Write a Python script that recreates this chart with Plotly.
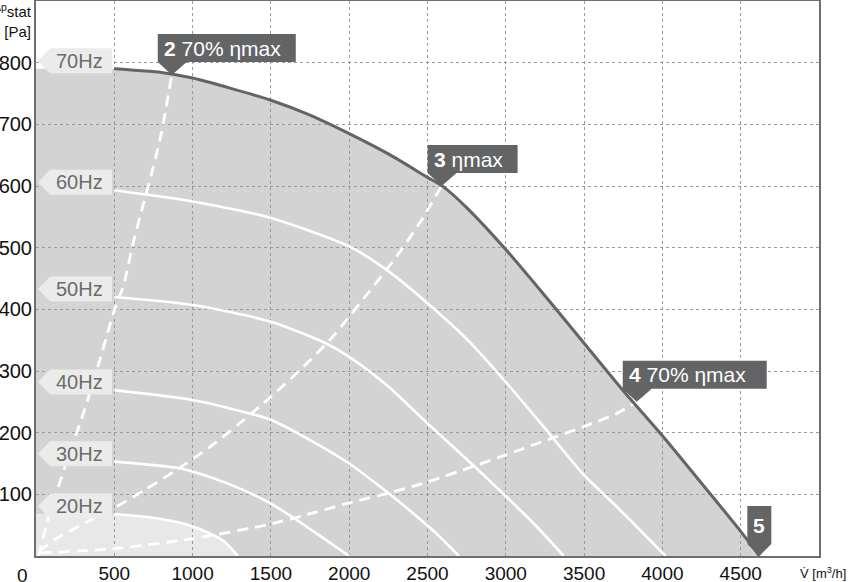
import plotly.graph_objects as go

# ---------------- data ----------------
x_ticks = [500, 1000, 1500, 2000, 2500, 3000, 3500, 4000, 4500]
y_ticks = [100, 200, 300, 400, 500, 600, 700, 800]

hz_labels = ["70Hz", "60Hz", "50Hz", "40Hz", "30Hz", "20Hz"]

v70 = [500, 800, 1000, 1250, 1500, 1750, 2000, 2250, 2500, 2600, 2750, 3000, 3250, 3500, 3750, 4000, 4250, 4500, 4620]
p70 = [790, 784, 775, 758, 739, 715, 685, 652, 614, 599, 565, 497, 422, 345, 268, 195, 118, 40, 0]

v60 = [500, 1000, 1500, 2000, 2250, 2500, 2750, 3000, 3250, 3500, 3700, 3900, 4020]
p60 = [593, 575, 548, 502, 462, 410, 352, 282, 207, 131, 82, 31, 0]

v50 = [500, 1000, 1500, 1850, 2000, 2250, 2500, 2750, 3000, 3200, 3370]
p50 = [420, 407, 380, 345, 323, 275, 215, 157, 97, 47, 0]

v40 = [500, 1000, 1350, 1500, 1750, 2000, 2250, 2400, 2550, 2700]
p40 = [269, 253, 232, 221, 188, 150, 102, 71, 38, 0]

v30 = [500, 900, 1000, 1250, 1500, 1650, 1800, 2000]
p30 = [153, 143, 137, 115, 85, 61, 35, 0]

v20 = [500, 750, 900, 1000, 1100, 1200, 1290]
p20 = [68, 62, 55, 48, 38, 24, 0]

# system (efficiency) curves, dashed
sys2_v = [15, 70, 150, 230, 310, 410, 500, 560, 620, 690, 750, 800, 867]
sys2_p = [0, 53, 118, 177, 237, 320, 398, 440, 507, 575, 632, 685, 780]

sys3_v = [20, 130, 300, 500, 700, 900, 1100, 1300, 1500, 1700, 1900, 2100, 2300, 2450, 2590]
sys3_p = [8, 28, 52, 78, 108, 140, 175, 215, 258, 305, 357, 420, 485, 540, 600]

sys4_v = [30, 500, 1000, 1500, 1800, 2000, 2250, 2500, 2800, 3000, 3250, 3500, 3700, 3836]
sys4_p = [5, 12, 28, 52, 72, 86, 102, 120, 146, 164, 187, 210, 230, 250]

op_labels = ["<b>2</b> 70% ηmax", "<b>3</b> ηmax", "<b>4</b> 70% ηmax", "<b>5</b>"]
op_v = [867, 2590, 3836, 4619]
op_p = [780, 600, 250, 0]

# ---------------- styling ----------------
FONT = "Liberation Sans, Arial, sans-serif"
GRAY_FILL = "#d3d3d3"
LIGHT_FILL = "#e8e8e8"
DARK = "#636466"

curves = [(v70, p70), (v60, p60), (v50, p50), (v40, p40), (v30, p30), (v20, p20)]

fig = go.Figure()

def area_path(vs, ps):
    pts = [(0, 0), (0, ps[0])] + list(zip(vs, ps))
    return "M " + " L ".join(f"{a},{b}" for a, b in pts) + " Z"

shapes = []
shapes.append(dict(type="path", xref="x", yref="y", path=area_path(v70, p70),
                   fillcolor=GRAY_FILL, line=dict(width=0), layer="below"))
shapes.append(dict(type="path", xref="x", yref="y", path=area_path(v20, p20),
                   fillcolor=LIGHT_FILL, line=dict(width=0), layer="below"))

# white speed curves
for (vs, ps) in curves[1:]:
    fig.add_trace(go.Scatter(x=vs, y=ps, mode="lines", line=dict(color="white", width=2.6, shape="spline", smoothing=0.7),
                             hoverinfo="skip", showlegend=False))

# dashed system curves
for vs, ps in [(sys2_v, sys2_p), (sys3_v, sys3_p), (sys4_v, sys4_p)]:
    fig.add_trace(go.Scatter(x=vs, y=ps, mode="lines", line=dict(color="white", width=2.8, dash="11px,7px", shape="spline", smoothing=0.7),
                             hoverinfo="skip", showlegend=False))

# 70Hz max curve
fig.add_trace(go.Scatter(x=v70, y=p70, mode="lines", line=dict(color=DARK, width=3, shape="spline", smoothing=0.7),
                         hoverinfo="skip", showlegend=False))

annotations = []
# Hz tags at left
for lab, (vs, ps) in zip(hz_labels, curves):
    shapes.append(dict(type="path", xref="x", yref="y", xsizemode="pixel", ysizemode="pixel",
                       xanchor=0, yanchor=ps[0],
                       path="M 2,8 L 14,20.5 L 76,20.5 L 76,-4.5 L 14,-4.5 Z",
                       fillcolor="#ebebeb", line=dict(width=0), layer="above"))
    annotations.append(dict(x=0, y=ps[0], xref="x", yref="y", text=lab, showarrow=False,
                            xanchor="center", yanchor="middle", xshift=43, yshift=8,
                            font=dict(family=FONT, size=20, color="#6b6b6b")))

# operating point callouts
widths = [138, 90, 144]
for i, (lab, v, p) in enumerate(zip(op_labels, op_v, op_p)):
    if i < 3:
        w = widths[i]
        path = f"M 0,0 L 15,13 L {w-14},13 L {w-14},41 L -14,41 L -14,13 Z"
        shapes.append(dict(type="path", xref="x", yref="y", xsizemode="pixel", ysizemode="pixel",
                           xanchor=v, yanchor=p, path=path, fillcolor=DARK, line=dict(width=0), layer="above"))
        annotations.append(dict(x=v, y=p, xref="x", yref="y", text=lab, showarrow=False,
                                xanchor="left", yanchor="middle", xshift=-10, yshift=27,
                                font=dict(family=FONT, size=21, color="white")))
    else:
        path = "M 0,0 L 12,12 L 12,50 L -12,50 L -12,12 Z"
        shapes.append(dict(type="path", xref="x", yref="y", xsizemode="pixel", ysizemode="pixel",
                           xanchor=v, yanchor=p, path=path, fillcolor=DARK, line=dict(width=0), layer="above"))
        annotations.append(dict(x=v, y=p, xref="x", yref="y", text=lab, showarrow=False,
                                xanchor="center", yanchor="middle", xshift=0, yshift=31,
                                font=dict(family=FONT, size=21, color="white")))

# axis captions
annotations.append(dict(x=0, y=0, xref="x", yref="y", text="0", showarrow=False,
                        xanchor="center", yanchor="middle", xshift=-14, yshift=-19,
                        font=dict(family=FONT, size=19, color="#111")))
annotations.append(dict(x=1, y=0, xref="paper", yref="paper", text="V̇ [m<sup>3</sup>/h]", showarrow=False,
                        xanchor="right", yanchor="middle", xshift=29, yshift=-17,
                        font=dict(family=FONT, size=13, color="#111")))
annotations.append(dict(x=0, y=1, xref="paper", yref="paper", text="<sup>Δp</sup>stat<br>[Pa]", showarrow=False,
                        xanchor="right", yanchor="top", xshift=-2, yshift=2, align="right",
                        font=dict(family=FONT, size=15, color="#111")))

fig.update_layout(
    width=848, height=582,
    margin=dict(l=36, r=29, t=1, b=26, autoexpand=False),
    paper_bgcolor="white", plot_bgcolor="white",
    shapes=shapes, annotations=annotations,
    showlegend=False,
    font=dict(family=FONT, color="#111"),
    xaxis=dict(range=[0, 5000], tickvals=x_ticks, ticktext=[str(t) for t in x_ticks],
               showgrid=True, gridcolor="#9a9a9a", gridwidth=1, griddash="3px,3px",
               showline=True, mirror=True, linecolor="#6e6e6e", linewidth=2, automargin=False,
               ticks="", zeroline=False, ticklabelstandoff=-1,
               tickfont=dict(size=19, family=FONT, color="#111")),
    yaxis=dict(range=[0, 900], tickvals=y_ticks, ticktext=[str(t) for t in y_ticks],
               showgrid=True, gridcolor="#9a9a9a", gridwidth=1, griddash="3px,3px",
               showline=True, mirror=True, linecolor="#6e6e6e", linewidth=2, automargin=False,
               ticks="", zeroline=False, ticklabelstandoff=-2,
               tickfont=dict(size=20, family=FONT, color="#111")),
)

fig.write_html("out.html", config={"displayModeBar": False},
               post_script="document.body.style.margin='0px';document.body.style.overflow='hidden';")
